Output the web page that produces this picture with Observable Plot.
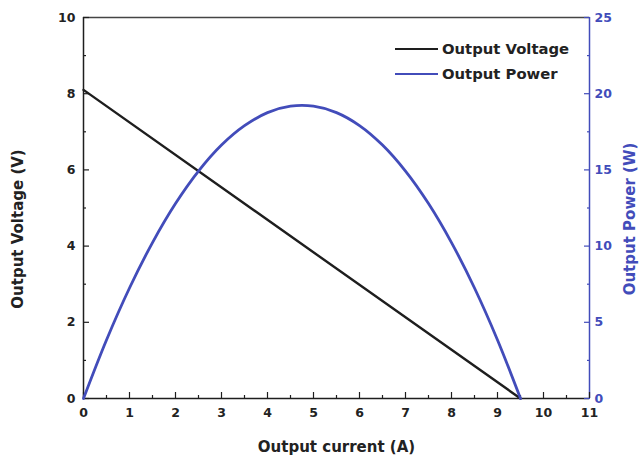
<!DOCTYPE html>
<html>
<head>
<meta charset="utf-8">
<script src="https://cdn.jsdelivr.net/npm/d3@7"></script>
<script src="https://cdn.jsdelivr.net/npm/@observablehq/plot@0.6"></script>
<style>
  html, body { margin: 0; padding: 0; background: #fff; }
  #wrap { position: relative; width: 642px; height: 459px; font-family: "DejaVu Sans", sans-serif; }
  #legend { position: absolute; left: 395px; top: 36px; font-weight: bold; font-size: 14.8px; color: #222; line-height: 25px; }
  #legend .row { display: flex; align-items: center; white-space: nowrap; }
  #legend .sw { display: inline-block; width: 43px; height: 0; margin-right: 4px; }
</style>
</head>
<body>
<div id="wrap">
  <div id="chart"></div>
  <div id="legend"></div>
</div>
<script>
// ---- data ----
const currentV = [0, 9.5];
const voltage = [8.1, 0];

const currentP = [0, 0.5, 1, 1.5, 2, 2.5, 3, 3.5, 4, 4.5, 5, 5.5, 6, 6.5, 7, 7.5, 8, 8.5, 9, 9.5];
const power = [0, 3.84, 7.25, 10.23, 12.79, 14.92, 16.63, 17.90, 18.76, 19.18, 19.18, 18.76, 17.91, 16.63, 14.92, 12.79, 10.23, 7.25, 3.84, 0];

const xTicks = [0, 1, 2, 3, 4, 5, 6, 7, 8, 9, 10, 11];
const xMinor = [0.5, 1.5, 2.5, 3.5, 4.5, 5.5, 6.5, 7.5, 8.5, 9.5, 10.5];
const yTicks = [0, 2, 4, 6, 8, 10];
const yMinor = [1, 3, 5, 7, 9];
const pTicks = [0, 5, 10, 15, 20, 25];
const pMinor = [2.5, 7.5, 12.5, 17.5, 22.5];

const seriesNames = ["Output Voltage", "Output Power"];
const titles = { x: "Output current (A)", yLeft: "Output Voltage (V)", yRight: "Output Power (W)" };

const BLACK = "#1e1e1e";
const BLUE = "#424cba";
const PMAX = 25, VMAX = 10;
const toV = p => p * VMAX / PMAX;

const vData = currentV.map((c, i) => ({ c, v: voltage[i] }));
const pData = currentP.map((c, i) => ({ c, p: power[i] }));

const font = { fontFamily: "DejaVu Sans", fontWeight: "bold" };

const chart = Plot.plot({
  width: 642,
  height: 459,
  marginLeft: 83,
  marginRight: 53,
  marginTop: 17,
  marginBottom: 61,
  style: { fontFamily: "DejaVu Sans", fontWeight: "bold", fontSize: "12px", color: "#222", background: "#fff" },
  x: { domain: [0, 11], label: null },
  y: { domain: [0, 10], label: null },
  marks: [
    // frame
    Plot.ruleY([10], { stroke: "#444", strokeWidth: 1.4 }),
    Plot.ruleY([0], { stroke: BLACK, strokeWidth: 1.5 }),
    Plot.ruleX([0], { stroke: BLACK, strokeWidth: 1.5 }),
    Plot.ruleX([11], { stroke: BLUE, strokeWidth: 1.5 }),

    // bottom axis: inward ticks
    Plot.axisX(xTicks, { anchor: "bottom", tickSize: 6, dy: -6, fill: "none", label: null, stroke: BLACK, strokeWidth: 1.2 }),
    Plot.axisX(xMinor, { anchor: "bottom", tickSize: 3, dy: -3, fill: "none", label: null, stroke: BLACK, strokeWidth: 1.2 }),
    Plot.axisX(xTicks, { anchor: "bottom", tickSize: 0, tickPadding: 10, label: null, ...font, fontSize: 12.5, fill: "#222" }),

    // left axis
    Plot.axisY(yTicks, { anchor: "left", tickSize: 6, dx: 6, fill: "none", label: null, stroke: BLACK, strokeWidth: 1.2 }),
    Plot.axisY(yMinor, { anchor: "left", tickSize: 3, dx: 3, fill: "none", label: null, stroke: BLACK, strokeWidth: 1.2 }),
    Plot.axisY(yTicks, { anchor: "left", tickSize: 0, tickPadding: 8, label: null, ...font, fontSize: 12.5, fill: "#222" }),

    // right axis (power, mapped to the voltage scale)
    Plot.axisY(pTicks, { anchor: "right", y: toV, tickSize: 6, dx: -6, fill: "none", label: null, stroke: BLUE, strokeWidth: 1.2 }),
    Plot.axisY(pMinor, { anchor: "right", y: toV, tickSize: 3, dx: -3, fill: "none", label: null, stroke: BLUE, strokeWidth: 1.2 }),
    Plot.axisY(pTicks, { anchor: "right", y: toV, text: d => String(d), tickSize: 0, tickPadding: 5, label: null, ...font, fontSize: 12.5, fill: BLUE }),

    // series
    Plot.line(vData, { x: "c", y: "v", stroke: BLACK, strokeWidth: 2.4 }),
    Plot.line(pData, { x: "c", y: d => toV(d.p), stroke: BLUE, strokeWidth: 2.8, curve: "catmull-rom" }),

    // axis titles
    Plot.text([titles.x], { text: d => d, frameAnchor: "bottom", dy: 49, lineAnchor: "middle", textAnchor: "middle", ...font, fontSize: 15, fill: "#222" }),
    Plot.text([titles.yLeft], { text: d => d, frameAnchor: "left", dx: -65, dy: 21, rotate: -90, lineAnchor: "middle", textAnchor: "middle", ...font, fontSize: 15, fill: "#222" }),
    Plot.text([titles.yRight], { text: d => d, frameAnchor: "right", dx: 41, dy: 11, rotate: -90, lineAnchor: "middle", textAnchor: "middle", ...font, fontSize: 15, fill: BLUE })
  ]
});
document.getElementById("chart").appendChild(chart);

// legend inside the plot area
const legend = document.getElementById("legend");
[[seriesNames[0], BLACK], [seriesNames[1], BLUE]].forEach(([name, col]) => {
  const row = document.createElement("div");
  row.className = "row";
  const sw = document.createElement("span");
  sw.className = "sw";
  sw.style.borderTop = `2.6px solid ${col}`;
  row.appendChild(sw);
  const t = document.createElement("span");
  t.textContent = name;
  row.appendChild(t);
  legend.appendChild(row);
});
</script>
</body>
</html>
